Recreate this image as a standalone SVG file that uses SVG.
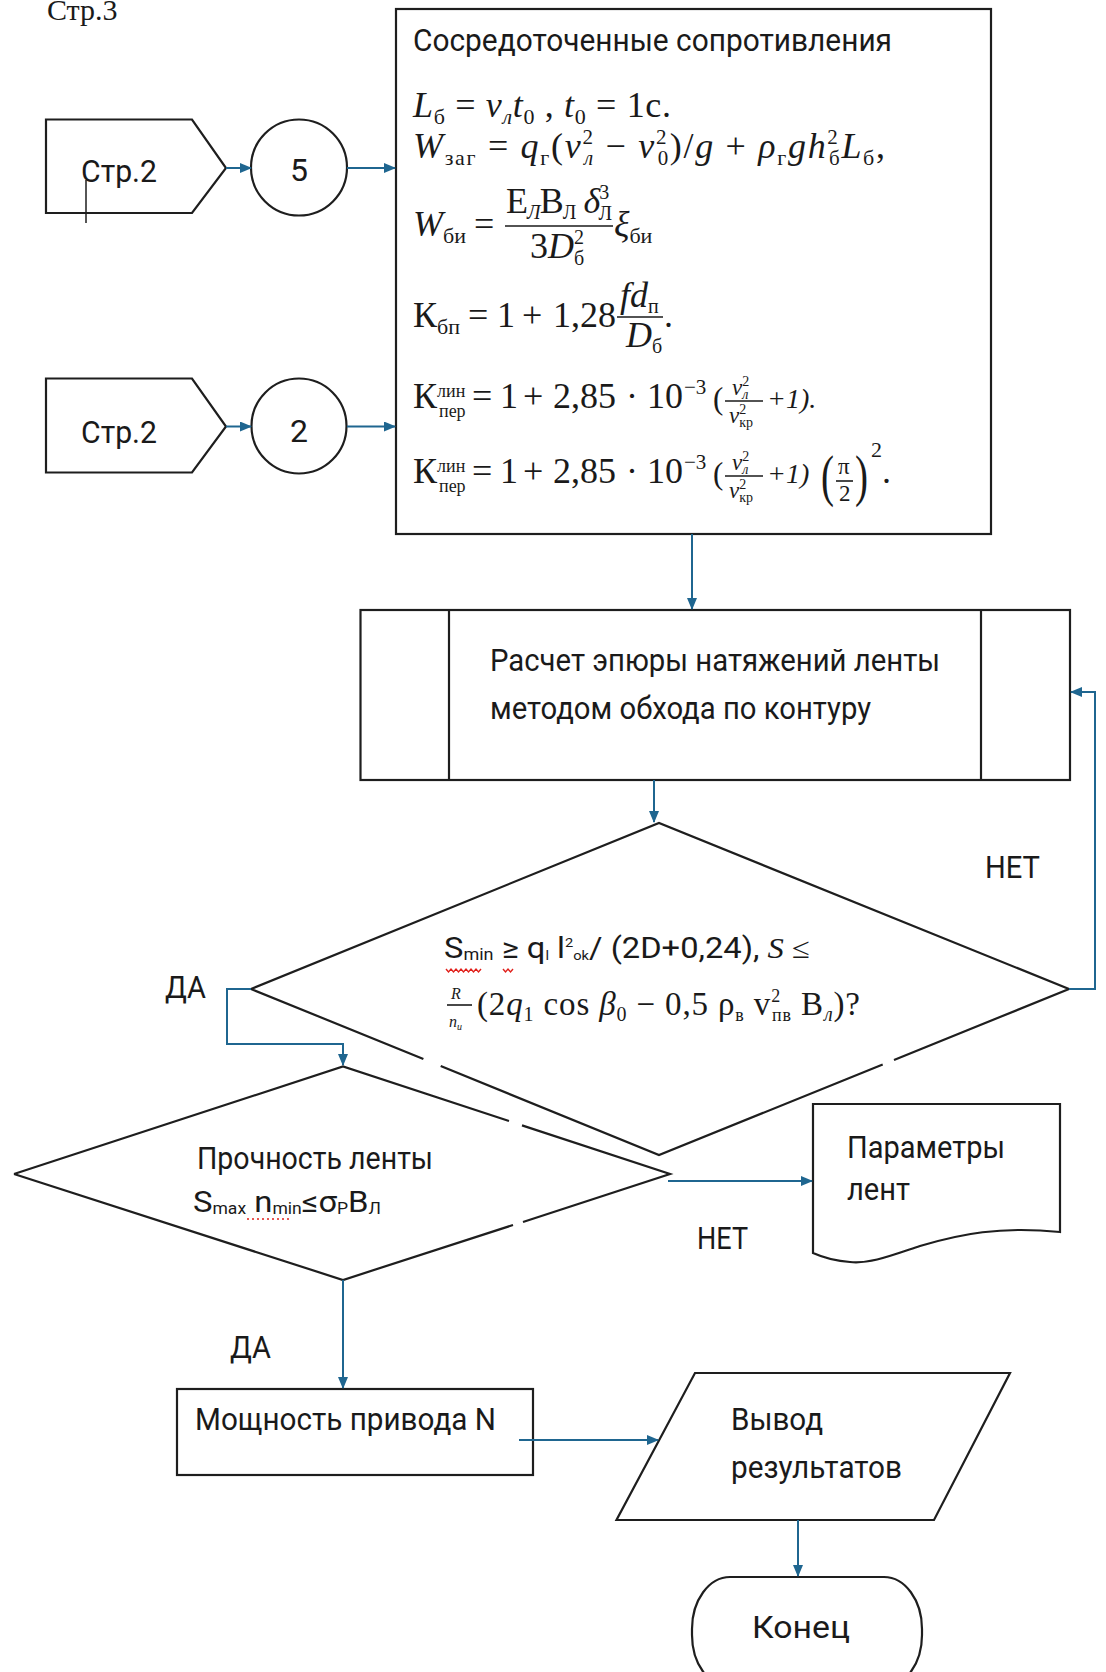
<svg xmlns="http://www.w3.org/2000/svg" width="1106" height="1672" viewBox="0 0 1106 1672">
<defs>
<marker id="ah" viewBox="0 0 12 10" refX="11" refY="5" markerWidth="12" markerHeight="10" markerUnits="userSpaceOnUse" orient="auto">
<path d="M0,0 L12,5 L0,10 Z" fill="#1f6690"/>
</marker>
<style>
.sh{fill:#fff;stroke:#1e1e1e;stroke-width:2.2}
.fl{fill:#fff;stroke:none}
.ln{fill:none;stroke:#1e1e1e;stroke-width:2.2}
.cn{fill:none;stroke:#1f6690;stroke-width:2;marker-end:url(#ah)}
.t{font-family:Roboto,"Liberation Sans",Arial,sans-serif;font-size:32px;fill:#1a1a1a}
.m{font-family:"Liberation Serif","DejaVu Serif","Times New Roman",serif;font-size:36px;fill:#1a1a1a}
.i{font-style:italic}
.fb{stroke:#1a1a1a;stroke-width:1.6}
.sq{fill:none;stroke:#e0201b;stroke-width:1.4}
.dot{fill:none;stroke:#e0201b;stroke-width:1.6;stroke-dasharray:2 3}
</style>
</defs>
<rect width="1106" height="1672" fill="#fff"/>

<text x="47" y="20" font-family="'Liberation Serif','Times New Roman',serif" font-size="30" fill="#1a1a1a">Стр.3</text>

<g id="page-ref-1">
<path class="sh" d="M46,119.5 H192 L226,168 L192,213 H46 Z"/>
<text class="t" x="81" y="182" textLength="76" lengthAdjust="spacingAndGlyphs">Стр.2</text>
<line x1="86" y1="180" x2="86" y2="223" stroke="#1e1e1e" stroke-width="1.5"/>
</g>
<g id="connector-5">
<circle class="sh" cx="299" cy="167.5" r="48"/>
<text class="t" x="299" y="181" text-anchor="middle">5</text>
</g>
<g id="page-ref-2">
<path class="sh" d="M46,378.5 H192 L226,426.5 L192,472.5 H46 Z"/>
<text class="t" x="81" y="443" textLength="76" lengthAdjust="spacingAndGlyphs">Стр.2</text>
</g>
<g id="connector-2">
<circle class="sh" cx="299" cy="426" r="47.5"/>
<text class="t" x="299" y="442" text-anchor="middle">2</text>
</g>

<g id="resistances">
<rect class="sh" x="396" y="9" width="595" height="525"/>
<text class="t" x="413" y="51" textLength="479" lengthAdjust="spacingAndGlyphs">Сосредоточенные сопротивления</text>
<text class="m" x="413" y="117" textLength="258" lengthAdjust="spacing"><tspan class="i">L</tspan><tspan font-size="22" dy="7">б</tspan><tspan dy="-7"> = </tspan><tspan class="i">v</tspan><tspan class="i" font-size="22" dy="7">л</tspan><tspan class="i" dy="-7">t</tspan><tspan font-size="22" dy="7">0</tspan><tspan dy="-7"> , </tspan><tspan class="i">t</tspan><tspan font-size="22" dy="7">0</tspan><tspan dy="-7"> = 1с.</tspan></text>
<text class="m" x="413" y="158" textLength="472" lengthAdjust="spacing"><tspan class="i">W</tspan><tspan font-size="22" dy="7">заг</tspan><tspan dy="-7">  = </tspan><tspan class="i">q</tspan><tspan font-size="22" dy="7">г</tspan><tspan dy="-7">(</tspan><tspan class="i">v</tspan><tspan font-size="21" dy="-14">2</tspan><tspan class="i" font-size="21" dx="-10.5" dy="21">л</tspan><tspan dy="-7"> − </tspan><tspan class="i">v</tspan><tspan font-size="21" dy="-14">2</tspan><tspan font-size="21" dx="-10.5" dy="21">0</tspan><tspan dy="-7">)/</tspan><tspan class="i">g</tspan><tspan> + </tspan><tspan class="i">ρ</tspan><tspan font-size="22" dy="7">г</tspan><tspan class="i" dy="-7">gh</tspan><tspan font-size="21" dy="-14">2</tspan><tspan font-size="21" dx="-10.5" dy="21">б</tspan><tspan class="i" dy="-7">L</tspan><tspan font-size="22" dy="7">б</tspan><tspan dy="-7">,</tspan></text>
<text class="m" x="413" y="236"><tspan class="i">W</tspan><tspan font-size="22" dy="7">би</tspan><tspan dy="-7" x="474">=</tspan></text>
<text class="m" x="506" y="213" textLength="106" lengthAdjust="spacing">Е<tspan class="i" font-size="20" dy="6">Л</tspan><tspan dy="-6">В</tspan><tspan font-size="20" dy="6">Л</tspan><tspan dy="-6"> </tspan><tspan class="i">δ</tspan><tspan font-size="20" dy="-14">3</tspan><tspan font-size="20" dx="-10" dy="21">Л</tspan></text>
<line class="fb" x1="505" y1="226" x2="613" y2="226"/>
<text class="m" x="530" y="258">3<tspan class="i">D</tspan><tspan font-size="20" dy="-14">2</tspan><tspan font-size="20" dx="-10" dy="21">б</tspan></text>
<text class="m" x="614" y="236"><tspan class="i">ξ</tspan><tspan font-size="22" dy="7">би</tspan></text>
<text class="m" x="413" y="327">К<tspan font-size="22" dy="7">бп</tspan><tspan dy="-7" x="468">=</tspan><tspan x="497">1</tspan><tspan x="522">+</tspan><tspan x="553">1,28</tspan></text>
<text class="m" x="620" y="307"><tspan class="i">fd</tspan><tspan font-size="20" dy="6">п</tspan></text>
<line class="fb" x1="617" y1="317" x2="663" y2="317"/>
<text class="m" x="626" y="347"><tspan class="i">D</tspan><tspan font-size="20" dy="6">б</tspan></text>
<text class="m" x="664" y="327">.</text>
<text class="m" x="413" y="408">К<tspan font-size="18" dy="-11">лин</tspan><tspan font-size="18" x="439" dy="20">пер</tspan><tspan dy="-9" x="472">=</tspan><tspan x="500">1</tspan><tspan x="523">+</tspan><tspan x="553">2,85</tspan><tspan x="626">·</tspan><tspan x="647">10</tspan><tspan font-size="21" x="684" dy="-14">−3</tspan></text>
<text class="m" x="713" y="409" style="font-size:31px">(</text>
<text class="m i" x="732" y="395" style="font-size:23px">v<tspan font-size="14" font-style="normal" dy="-9">2</tspan><tspan font-size="14" dx="-7" dy="13">л</tspan></text>
<line class="fb" x1="725" y1="401" x2="763" y2="401" stroke-width="1.3"/>
<text class="m i" x="729" y="423" style="font-size:23px">v<tspan font-size="14" font-style="normal" dy="-9">2</tspan><tspan font-size="14" font-style="normal" dx="-7" dy="13">кр</tspan></text>
<text class="m i" x="767" y="408" style="font-size:28px">+1).</text>
<text class="m" x="413" y="483">К<tspan font-size="18" dy="-11">лин</tspan><tspan font-size="18" x="439" dy="20">пер</tspan><tspan dy="-9" x="472">=</tspan><tspan x="500">1</tspan><tspan x="523">+</tspan><tspan x="553">2,85</tspan><tspan x="626">·</tspan><tspan x="647">10</tspan><tspan font-size="21" x="684" dy="-14">−3</tspan></text>
<text class="m" x="713" y="484" style="font-size:31px">(</text>
<text class="m i" x="732" y="470" style="font-size:23px">v<tspan font-size="14" font-style="normal" dy="-9">2</tspan><tspan font-size="14" dx="-7" dy="13">л</tspan></text>
<line class="fb" x1="725" y1="476" x2="763" y2="476" stroke-width="1.3"/>
<text class="m i" x="729" y="498" style="font-size:23px">v<tspan font-size="14" font-style="normal" dy="-9">2</tspan><tspan font-size="14" font-style="normal" dx="-7" dy="13">кр</tspan></text>
<text class="m i" x="767" y="483" style="font-size:28px">+1)</text>
<text class="m" x="821" y="495" style="font-size:56px" textLength="13" lengthAdjust="spacingAndGlyphs">(</text>
<text class="m" x="838" y="474" style="font-size:23px">π</text>
<line class="fb" x1="836" y1="481" x2="853" y2="481" stroke-width="1.2"/>
<text class="m" x="839" y="501" style="font-size:23px">2</text>
<text class="m" x="855" y="495" style="font-size:56px" textLength="13" lengthAdjust="spacingAndGlyphs">)</text>
<text class="m" x="871" y="457" style="font-size:22px">2</text>
<text class="m" x="882" y="483">.</text>
</g>

<g id="tension-calc">
<rect class="sh" x="360.5" y="610" width="709.5" height="170"/>
<line class="ln" x1="449" y1="610" x2="449" y2="780"/>
<line class="ln" x1="981" y1="610" x2="981" y2="780"/>
<text class="t" x="490" y="671" textLength="450" lengthAdjust="spacingAndGlyphs">Расчет эпюры натяжений ленты</text>
<text class="t" x="490" y="719" textLength="381" lengthAdjust="spacingAndGlyphs">методом обхода по контуру</text>
</g>

<g id="decision-smin">
<polygon class="fl" points="659,823 1069,989 659,1155 251,989"/>
<path class="ln" d="M251,989 L659,823 L1069,989 L894,1060 M882.7,1064.5 L659,1155 L440.7,1066 M423.4,1059 L251,989"/>
<text class="t" x="444" y="958" style="font-size:29px" textLength="366" lengthAdjust="spacingAndGlyphs">S<tspan font-size="16" dy="2">min</tspan><tspan dy="-2"> ≥ q</tspan><tspan font-size="13" dy="2">l</tspan><tspan dy="-2"> l</tspan><tspan font-size="13" dy="-11">2</tspan><tspan font-size="13" dy="13">ok</tspan><tspan dy="-2">/ (2D+0,24), </tspan><tspan font-family="'Liberation Serif',serif" font-style="italic">S</tspan><tspan font-family="'Liberation Serif',serif"> ≤</tspan></text>
<path class="sq" d="M446,969 l2.5,3 l2.5,-3 l2.5,3 l2.5,-3 l2.5,3 l2.5,-3 l2.5,3 l2.5,-3 l2.5,3 l2.5,-3 l2.5,3 l2.5,-3 l2.5,3 l2.5,-3"/>
<path class="sq" d="M503,969 l2.5,3 l2.5,-3 l2.5,3 l2.5,-3"/>
<text class="m i" x="451" y="999" style="font-size:16px">R</text>
<line class="fb" x1="447" y1="1005" x2="472" y2="1005" stroke-width="1.2"/>
<text class="m i" x="449" y="1027" style="font-size:16px">n<tspan font-size="10" dy="3">u</tspan></text>
<text class="m" x="477" y="1015" style="font-size:33px" textLength="383" lengthAdjust="spacing">(2<tspan class="i">q</tspan><tspan font-size="20" dy="6">1</tspan><tspan dy="-6"> cos </tspan><tspan class="i">β</tspan><tspan font-size="20" dy="6">0</tspan><tspan dy="-6"> − 0,5 ρ</tspan><tspan font-size="18" dy="6">в</tspan><tspan dy="-6"> v</tspan><tspan font-size="18" dy="-13">2</tspan><tspan font-size="18" dx="-9" dy="19">пв</tspan><tspan dy="-6"> В</tspan><tspan class="i" font-size="20" dy="6">л</tspan><tspan dy="-6">)?</tspan></text>
</g>

<g id="decision-strength">
<polygon class="fl" points="343,1066.5 670,1174 343,1280 14,1174"/>
<path class="ln" d="M14,1174 L343,1066.5 L509,1121 M522,1125.4 L670,1174 L523,1222 M513,1225 L343,1280 L14,1174"/>
<text class="t" x="197" y="1169" textLength="236" lengthAdjust="spacingAndGlyphs">Прочность ленты</text>
<text class="t" x="193" y="1212" style="font-size:30px" textLength="188" lengthAdjust="spacingAndGlyphs">S<tspan font-size="16" dy="2">max</tspan><tspan dy="-2"> n</tspan><tspan font-size="16" dy="2">min</tspan><tspan dy="-2">≤σ</tspan><tspan font-size="16" dy="2">P</tspan><tspan dy="-2">B</tspan><tspan font-size="16" dy="2">Л</tspan></text>
<path class="dot" d="M247,1219 H290"/>
</g>

<g id="belt-params">
<path class="sh" d="M813,1104 H1060 V1232 C1000,1226 960,1234 920,1246 C890,1256 870,1264 850,1262 C835,1261 822,1257 813,1253 Z"/>
<text class="t" x="847" y="1158" textLength="158" lengthAdjust="spacingAndGlyphs">Параметры</text>
<text class="t" x="847" y="1200" textLength="63" lengthAdjust="spacingAndGlyphs">лент</text>
</g>

<g id="drive-power">
<rect class="sh" x="177" y="1389" width="356" height="86"/>
<text class="t" x="195" y="1430" textLength="301" lengthAdjust="spacingAndGlyphs">Мощность привода N</text>
</g>

<g id="output">
<path class="sh" d="M695,1373 H1010 L934,1520 H616.5 Z"/>
<text class="t" x="731" y="1430" textLength="92" lengthAdjust="spacingAndGlyphs">Вывод</text>
<text class="t" x="731" y="1478" textLength="171" lengthAdjust="spacingAndGlyphs">результатов</text>
</g>

<g id="end">
<rect class="sh" x="692" y="1577" width="230" height="110" rx="38" ry="52"/>
<text class="t" x="752" y="1638" textLength="98" lengthAdjust="spacingAndGlyphs">Конец</text>
</g>

<g id="connectors">
<path class="cn" d="M226,168 H251"/>
<path class="cn" d="M347,168 H395"/>
<path class="cn" d="M226,426.5 H251"/>
<path class="cn" d="M347,426.5 H395"/>
<path class="cn" d="M692,534 V609"/>
<path class="cn" d="M654,780 V822"/>
<path class="cn" d="M1069,989 H1095 V692 H1071"/>
<path class="cn" d="M251,989 H227 V1044 H343 V1065"/>
<path class="cn" d="M668,1181 H812"/>
<path class="cn" d="M343,1280 V1388"/>
<path class="cn" d="M519,1440 H658"/>
<path class="cn" d="M798,1520 V1576"/>
<text class="t" x="985" y="878" textLength="55" lengthAdjust="spacingAndGlyphs">НЕТ</text>
<text class="t" x="165" y="998" textLength="41" lengthAdjust="spacingAndGlyphs">ДА</text>
<text class="t" x="697" y="1249" textLength="51" lengthAdjust="spacingAndGlyphs">НЕТ</text>
<text class="t" x="230" y="1358" textLength="41" lengthAdjust="spacingAndGlyphs">ДА</text>
</g>
</svg>
